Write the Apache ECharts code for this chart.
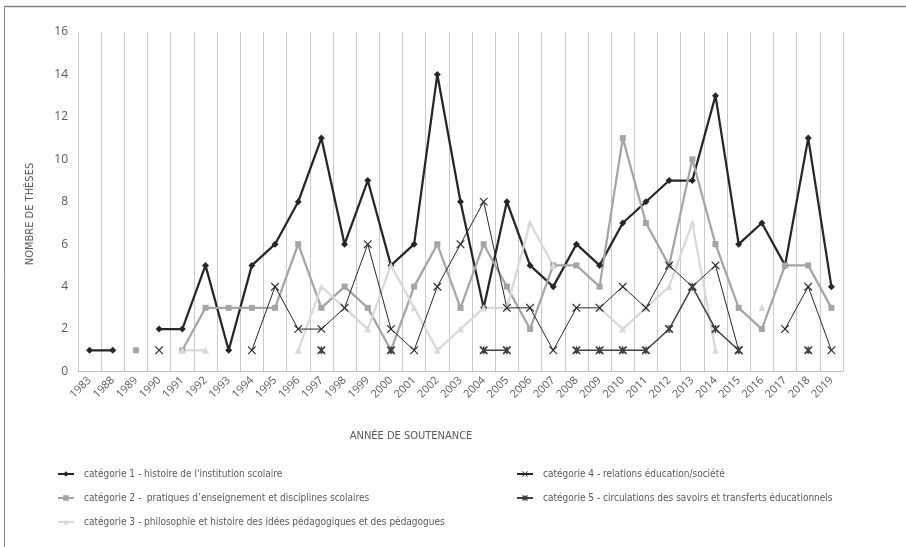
<!DOCTYPE html>
<html>
<head>
<meta charset="utf-8">
<script src="https://cdn.jsdelivr.net/npm/echarts@6/dist/echarts.min.js"></script>
<style>
html,body{margin:0;padding:0;background:#fff;}
#c{width:906px;height:547px;}
</style>
</head>
<body>
<div id="c"></div>
<script>
var years = ['1983','1988','1989','1990','1991','1992','1993','1994','1995','1996','1997','1998','1999','2000','2001','2002','2003','2004','2005','2006','2007','2008','2009','2010','2011','2012','2013','2014','2015','2016','2017','2018','2019'];
var yTicks = [0,2,4,6,8,10,12,14,16];
var cat1 = [1,1,null,2,2,5,1,5,6,8,11,6,9,5,6,14,8,3,8,5,4,6,5,7,8,9,9,13,6,7,5,11,4];
var cat2 = [null,null,1,null,1,3,3,3,3,6,3,4,3,1,4,6,3,6,4,2,5,5,4,11,7,5,10,6,3,2,5,5,3];
var cat3 = [null,null,null,null,1,1,null,null,null,1,4,3,2,5,3,1,2,3,3,7,5,null,3,2,3,4,7,1,null,3,null,null,null];
var cat4 = [null,null,null,1,null,null,null,1,4,2,2,3,6,2,1,4,6,8,3,3,1,3,3,4,3,5,4,5,1,null,2,4,1];
var cat5 = [null,null,null,null,null,null,null,null,null,null,1,null,null,1,null,null,null,1,1,null,null,1,1,1,1,2,4,2,1,null,null,1,null];
var names = [
  "catégorie 1 - histoire de l'institution scolaire",
  'catégorie 2 -  pratiques d\u2019enseignement et disciplines scolaires',
  'catégorie 3 - philosophie et histoire des idées pédagogiques et des pédagogues',
  'catégorie 4 - relations éducation/société',
  'catégorie 5 - circulations des savoirs et transferts éducationnels'
];
var xTitle = 'ANNÉE DE SOUTENANCE';
var yTitle = 'NOMBRE DE THÈSES';

var narrow = "'Liberation Sans Narrow','DejaVu Sans Condensed','Roboto Condensed',sans-serif";
var tickFont = "'Open Sans','Noto Sans',sans-serif";
var X_PATH = 'path://M0,0 L1,0 L5,4 L9,0 L10,0 L10,1 L6,5 L10,9 L10,10 L9,10 L5,6 L1,10 L0,10 L0,9 L4,5 L0,1 Z';
var AST_PATH = 'path://M0,0 L1.6,0 L5,3.4 L8.4,0 L10,0 L10,1.6 L6.6,5 L10,8.4 L10,10 L8.4,10 L5,6.6 L1.6,10 L0,10 L0,8.4 L3.4,5 L0,1.6 Z M4.2,0 L5.8,0 L5.8,10 L4.2,10 Z';

function mk(name, data, color, width, symbol, size){
  return {
    name: name, type: 'line', data: data,
    connectNulls: false, showAllSymbol: true,
    symbol: symbol, symbolSize: size,
    lineStyle: {color: color, width: width},
    itemStyle: {color: color},
    emphasis: {disabled: true},
    animation: false
  };
}

var legendCommon = {orient: 'vertical', itemWidth: 16, itemHeight: 7, itemGap: 14, top: 464,
  textStyle: {fontSize: 10, color: '#595959', fontFamily: narrow, padding: [0,0,0,5], lineHeight: 8}, selectedMode: false};

var chart = echarts.init(document.getElementById('c'), null, {renderer: 'canvas'});
chart.setOption({
  animation: false,
  backgroundColor: '#fff',
  grid: {left: 78, right: 63, top: 32, bottom: 175.5, containLabel: false},
  xAxis: {
    type: 'category', data: years, boundaryGap: true,
    axisLine: {show: true, lineStyle: {color: '#bfbfbf', width: 1}},
    axisTick: {show: false},
    splitLine: {show: true, interval: 0, lineStyle: {color: '#c8c8c8', width: 1}},
    axisLabel: {interval: 0, rotate: 45, margin: 7, fontSize: 11, color: '#595959', fontFamily: tickFont}
  },
  yAxis: {
    type: 'value', min: yTicks[0], max: yTicks[yTicks.length-1], interval: 2,
    axisLine: {show: false}, axisTick: {show: false}, splitLine: {show: false},
    axisLabel: {margin: 10, fontSize: 12, color: '#595959', fontFamily: tickFont}
  },
  legend: [
    Object.assign({data: names.slice(0,3), left: 52}, legendCommon),
    Object.assign({data: names.slice(3,5), left: 511}, legendCommon)
  ],
  graphic: [
    {type: 'line', shape: {x1: 5, y1: 6.5, x2: 906, y2: 6.5}, style: {stroke: '#7f7f7f', lineWidth: 1.5}, silent: true},
    {type: 'line', shape: {x1: 4.5, y1: 6, x2: 4.5, y2: 547}, style: {stroke: '#8c8c8c', lineWidth: 1}, silent: true},
    {type: 'text', x: 411, y: 436, silent: true,
     style: {text: xTitle, fill: '#595959', font: "11px " + narrow, textAlign: 'center', textVerticalAlign: 'middle'}},
    {type: 'text', x: 30, y: 214, rotation: Math.PI/2, silent: true,
     style: {text: yTitle, fill: '#595959', font: "11px " + narrow, textAlign: 'center', textVerticalAlign: 'middle'}}
  ],
  series: [
    mk(names[0], cat1, '#262626', 2.25, 'diamond', 7),
    mk(names[1], cat2, '#a5a5a5', 2.25, 'rect', 6),
    mk(names[2], cat3, '#d9d9d9', 2.25, 'triangle', 7),
    mk(names[3], cat4, '#262626', 1, X_PATH, 8),
    mk(names[4], cat5, '#404040', 1.5, AST_PATH, 8)
  ]
});
</script>
</body>
</html>
